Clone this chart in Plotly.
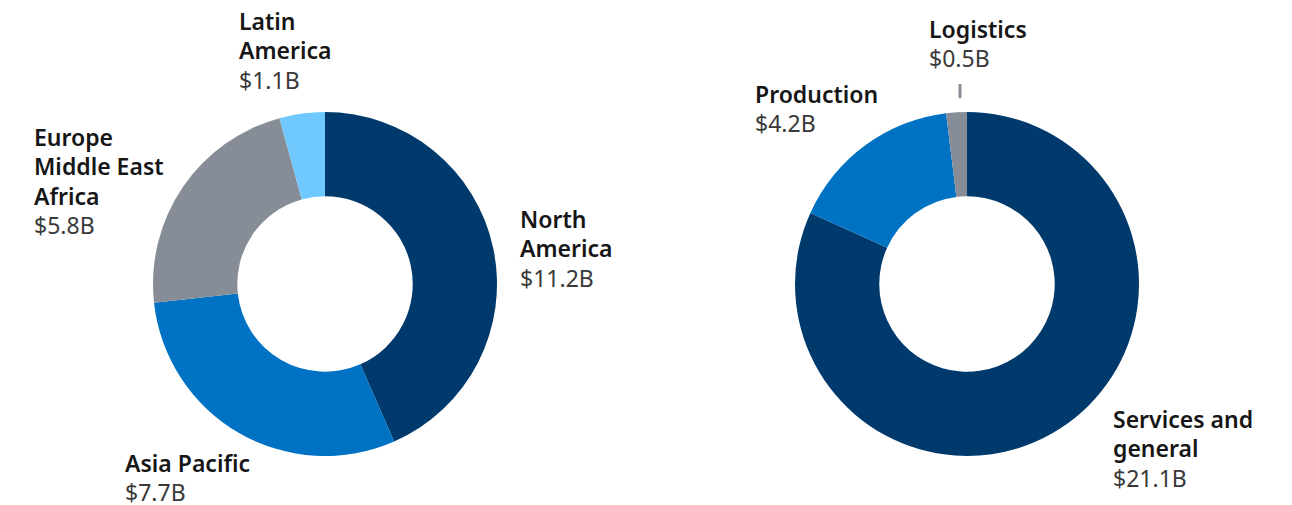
import plotly.graph_objects as go

W, H = 1292, 505
OFF = 8  # page body margin in the browser

region_labels = ["North America", "Asia Pacific", "Europe Middle East Africa", "Latin America"]
region_values = [11.2, 7.7, 5.8, 1.1]
region_colors = ["#003a6d", "#0072c3", "#878d96", "#6fc9ff"]

segment_labels = ["Services and general", "Production", "Logistics"]
segment_values = [21.1, 4.2, 0.5]
segment_colors = ["#003a6d", "#0072c3", "#878d96"]

# label text lines (name lines) and placement in pixels (left x, first baseline y)
region_text = [["North", "America"], ["Asia Pacific"], ["Europe", "Middle East", "Africa"], ["Latin", "America"]]
region_pos = [(519, 230), (124, 474), (33, 148), (238, 32)]
segment_text = [["Services and", "general"], ["Production"], ["Logistics"]]
segment_pos = [(1112, 430), (754, 105), (928, 40)]

def px_x(x):
    return (x - OFF) / W

def px_y(y):
    return 1 - (y - OFF) / H

R = 172
def domain(cx, cy):
    return dict(x=[px_x(cx - R), px_x(cx + R)], y=[px_y(cy + R), px_y(cy - R)])

fig = go.Figure()
fig.add_trace(go.Pie(
    labels=region_labels, values=region_values, hole=0.51, sort=False,
    direction="clockwise", rotation=0, textinfo="none", hoverinfo="label+value",
    marker=dict(colors=region_colors, line=dict(width=0)),
    domain=domain(325, 284), showlegend=False,
))
fig.add_trace(go.Pie(
    labels=segment_labels, values=segment_values, hole=0.51, sort=False,
    direction="clockwise", rotation=0, textinfo="none", hoverinfo="label+value",
    marker=dict(colors=segment_colors, line=dict(width=0)),
    domain=domain(967, 284), showlegend=False,
))

FS = 23
LH = 29.3
annotations = []
def add_label(lines, value, pos):
    x, b = pos
    for i, ln in enumerate(lines):
        annotations.append(dict(
            x=px_x(x), y=px_y(b + i * LH), xref="paper", yref="paper",
            xanchor="left", yanchor="bottom", text=ln, showarrow=False,
            font=dict(family="Noto Sans", size=FS, color="#161616", weight=600),
            borderpad=0, yshift=-6,
        ))
    annotations.append(dict(
        x=px_x(x), y=px_y(b + len(lines) * LH), xref="paper", yref="paper",
        xanchor="left", yanchor="bottom", text="$%.1fB" % value, showarrow=False,
        font=dict(family="Noto Sans", size=FS, color="#393939"), borderpad=0, yshift=-6,
    ))

for lines, v, p in zip(region_text, region_values, region_pos):
    add_label(lines, v, p)
for lines, v, p in zip(segment_text, segment_values, segment_pos):
    add_label(lines, v, p)

fig.update_layout(
    width=W, height=H, margin=dict(l=0, r=0, t=0, b=0),
    paper_bgcolor="white", plot_bgcolor="white",
    annotations=annotations,
    shapes=[dict(type="line", xref="paper", yref="paper",
                 x0=px_x(960), x1=px_x(960), y0=px_y(84), y1=px_y(98),
                 line=dict(color="#878d96", width=3))],
)

fig.write_html("out.html")
